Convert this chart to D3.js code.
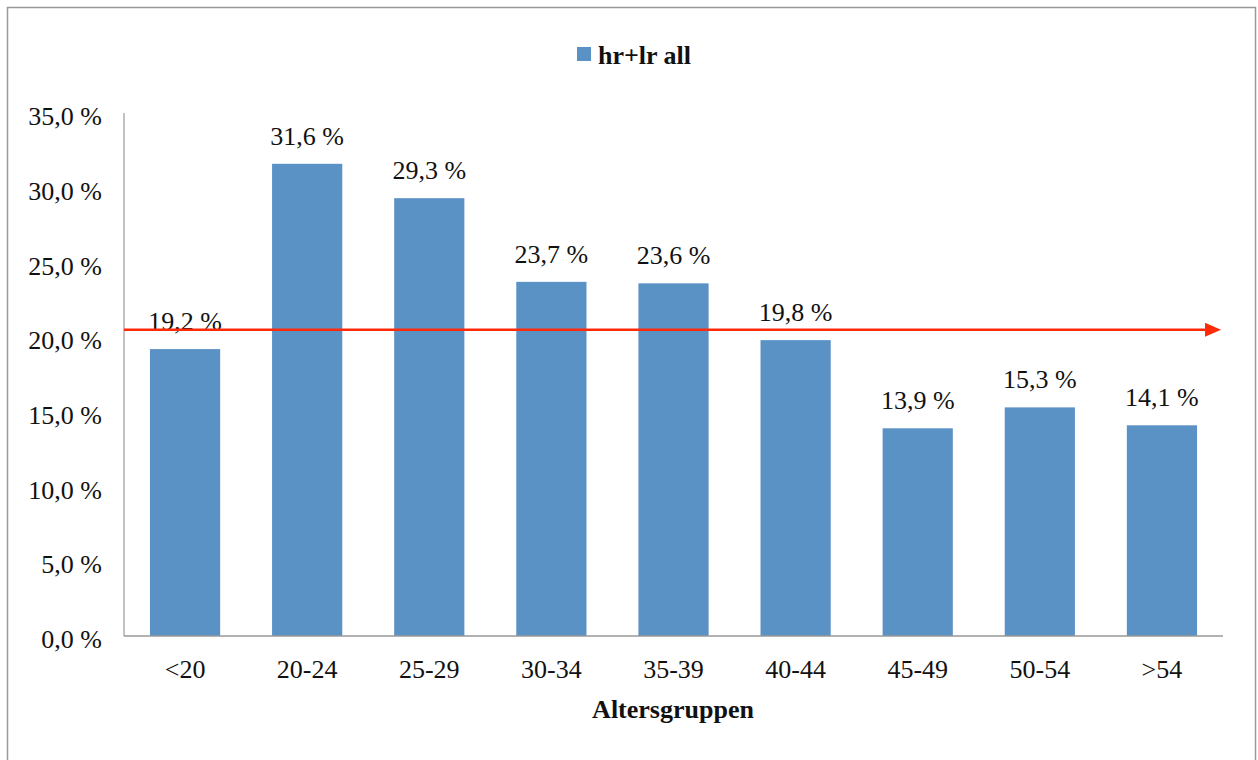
<!DOCTYPE html>
<html>
<head>
<meta charset="utf-8">
<script src="https://cdn.jsdelivr.net/npm/d3@7"></script>
<style>
  html, body { margin: 0; padding: 0; background: #fff; }
  svg { display: block; }
</style>
</head>
<body>
<svg id="chart" width="1258" height="760"></svg>
<script>
// Share per age group (percent)
const categories = ["<20", "20-24", "25-29", "30-34", "35-39", "40-44", "45-49", "50-54", ">54"];
const values = [19.2, 31.6, 29.3, 23.7, 23.6, 19.8, 13.9, 15.3, 14.1];
const yTicks = [0, 5, 10, 15, 20, 25, 30, 35];
const seriesName = "hr+lr all";
const axisTitle = "Altersgruppen";
const averageLine = 20.5;

const fmt = v => v.toFixed(1).replace(".", ",") + " %";
const font = "'Liberation Serif', 'Times New Roman', serif";
const fs = 26;

const svg = d3.select("#chart");

// outer frame
svg.append("rect")
  .attr("x", 7.5).attr("y", 7.5)
  .attr("width", 1248).attr("height", 770)
  .attr("fill", "none").attr("stroke", "#999").attr("stroke-width", 1.5);

const plot = { left: 124, right: 1223, top: 113, bottom: 636 };

const x = d3.scaleBand()
  .domain(categories)
  .range([plot.left, plot.right])
  .paddingInner(0.425)
  .paddingOuter(0.2125);

const y = d3.scaleLinear().domain([0, 35]).range([plot.bottom, plot.top]);

// bars
svg.append("g").selectAll("rect")
  .data(values)
  .join("rect")
  .attr("x", (d, i) => x(categories[i]))
  .attr("y", d => y(d))
  .attr("width", x.bandwidth())
  .attr("height", d => y(0) - y(d))
  .attr("fill", "#5B92C6");

// value labels
svg.append("g").selectAll("text")
  .data(values)
  .join("text")
  .attr("x", (d, i) => x(categories[i]) + x.bandwidth() / 2)
  .attr("y", d => y(d) - 19)
  .attr("text-anchor", "middle")
  .attr("font-family", font)
  .attr("font-size", fs)
  .attr("fill", "#111")
  .text(fmt);

// y axis
const yAxis = svg.append("g")
  .attr("transform", `translate(${plot.left},0)`)
  .call(d3.axisLeft(y).tickValues(yTicks).tickSize(0).tickPadding(22).tickFormat(fmt));
yAxis.select(".domain").attr("stroke", "#999").attr("stroke-width", 1.2)
  .attr("d", `M0,${y(35)}V${plot.bottom}`);
yAxis.selectAll("text")
  .attr("font-family", font).attr("font-size", fs).attr("fill", "#111")
  .attr("dy", "0.45em");

// x axis
const xAxis = svg.append("g")
  .attr("transform", `translate(0,${plot.bottom})`)
  .call(d3.axisBottom(x).tickSize(0).tickPadding(24));
xAxis.select(".domain").attr("stroke", "#999").attr("stroke-width", 1.5)
  .attr("d", `M${plot.left},0H${plot.right}`);
xAxis.selectAll("text")
  .attr("font-family", font).attr("font-size", fs).attr("fill", "#111");

// axis title
svg.append("text")
  .attr("x", 673)
  .attr("y", 718)
  .attr("text-anchor", "middle")
  .attr("font-family", font).attr("font-size", fs).attr("font-weight", "bold")
  .attr("fill", "#111")
  .text(axisTitle);

// legend
const legend = svg.append("g").attr("transform", "translate(577,47)");
legend.append("rect").attr("width", 14).attr("height", 14).attr("fill", "#5B92C6");
legend.append("text")
  .attr("x", 21).attr("y", 17)
  .attr("font-family", font).attr("font-size", fs).attr("font-weight", "bold")
  .attr("fill", "#111")
  .text(seriesName);

// average reference arrow
const yAvg = y(averageLine);
svg.append("line")
  .attr("x1", plot.left).attr("x2", 1208)
  .attr("y1", yAvg).attr("y2", yAvg)
  .attr("stroke", "#FF2A0A").attr("stroke-width", 2.5);
svg.append("path")
  .attr("d", `M1205,${yAvg - 7}L1221,${yAvg}L1205,${yAvg + 7}Z`)
  .attr("fill", "#FF2A0A");
</script>
</body>
</html>
